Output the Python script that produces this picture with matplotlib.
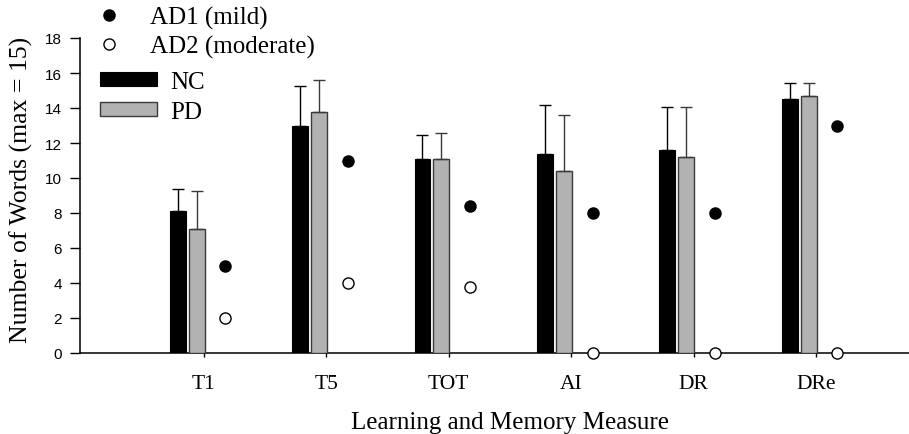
import matplotlib
matplotlib.use('Agg')

import matplotlib.pyplot as plt
import numpy as np

# Learning and memory measures
measures = ["T1", "T5", "TOT", "AI", "DR", "DRe"]

nc_mean = [8.1, 13.0, 11.1, 11.4, 11.6, 14.5]
nc_sd = [1.27, 2.25, 1.38, 2.75, 2.45, 0.95]
pd_mean = [7.1, 13.8, 11.1, 10.4, 11.2, 14.7]
pd_sd = [2.15, 1.8, 1.48, 3.2, 2.85, 0.72]
ad1 = [5, 11, 8.4, 8, 8, 13]
ad2 = [2, 4, 3.8, 0, 0, 0]

SERIF = ["Liberation Serif", "DejaVu Serif"]
SANS = ["Liberation Sans", "DejaVu Sans"]

fig = plt.figure(figsize=(9.09, 4.35), dpi=100)
ax = fig.add_axes([80 / 909, 81 / 435, 829 / 909, 315 / 435])

x = np.arange(len(measures))
w = 0.13

err_nc = [np.zeros(len(x)), nc_sd]
err_pd = [np.zeros(len(x)), pd_sd]

b_nc = ax.bar(x - 0.215, nc_mean, w, color="black", edgecolor="black", linewidth=0.8,
              yerr=err_nc, error_kw=dict(ecolor="black", elinewidth=1, capsize=4, capthick=1),
              zorder=3, label="NC")
b_pd = ax.bar(x - 0.06, pd_mean, w, color="#b2b2b2", edgecolor="#3a3a3a", linewidth=1,
              yerr=err_pd, error_kw=dict(ecolor="#3a3a3a", elinewidth=1, capsize=4, capthick=1),
              zorder=3, label="PD")
p1, = ax.plot(x + 0.175, ad1, "o", color="black", markersize=8, linestyle="none",
              clip_on=False, zorder=4, label="AD1 (mild)")
p2, = ax.plot(x + 0.175, ad2, "o", markerfacecolor="white", markeredgecolor="black",
              markeredgewidth=1, markersize=8, linestyle="none", clip_on=False, zorder=4,
              label="AD2 (moderate)")

ax.set_xlim(-1.013, 5.76)
ax.set_ylim(0, 18)
ax.set_yticks(range(0, 19, 2))
ax.set_xticks(x)
ax.set_xticklabels(measures, family=SERIF, fontsize=15.5)
for lab in ax.get_yticklabels():
    lab.set_family(SANS)
    lab.set_fontsize(11)

ax.spines["top"].set_visible(False)
ax.spines["right"].set_visible(False)
ax.spines["left"].set_linewidth(1.1)
ax.spines["bottom"].set_linewidth(1.1)
ax.tick_params(axis="y", direction="out", length=7, width=1, pad=6)
ax.tick_params(axis="x", direction="out", length=3, width=1, pad=12)

ax.set_xlabel("Learning and Memory Measure", family=SERIF, fontsize=18)
ax.xaxis.set_label_coords(0.519, -0.238)
ax.xaxis.label.set_va("baseline")
ax.set_ylabel("Number of Words (max = 15)", family=SERIF, fontsize=18.5)
ax.yaxis.set_label_coords(-0.071, 0.521)
ax.yaxis.label.set_va("center")
ax.yaxis.label.set_rotation_mode("default")

leg1 = fig.legend(handles=[p1, p2], loc="upper left", bbox_to_anchor=(99 / 909, 1 - 7 / 435),
                  frameon=False, borderpad=0, borderaxespad=0, handlelength=0.8,
                  handletextpad=1.24, labelspacing=0.22, prop=dict(family=SERIF, size=18))
leg2 = fig.legend(handles=[b_nc, b_pd], loc="upper left", bbox_to_anchor=(100 / 909, 1 - 72 / 435),
                  frameon=False, borderpad=0, borderaxespad=0, handlelength=2.28,
                  handleheight=0.44, handletextpad=0.52, labelspacing=0.32,
                  prop=dict(family=SERIF, size=18))

fig.savefig("out.png", dpi=100)
